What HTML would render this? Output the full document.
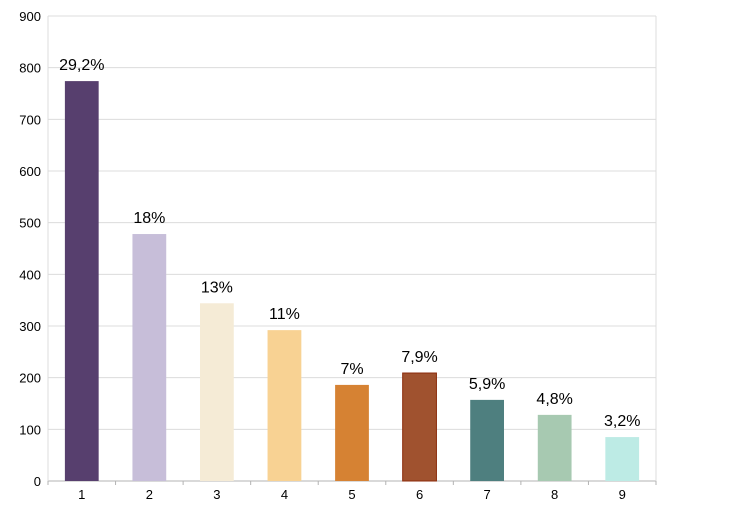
<!DOCTYPE html>
<html><head><meta charset="utf-8"><style>
body{margin:0;background:#fff;}
svg{display:block;font-family:"Liberation Sans",sans-serif;}
</style></head><body>
<svg id="c" width="754" height="524"></svg>
<script>
const categories=["1","2","3","4","5","6","7","8","9"];
const values=[774,478,344,292,186,209,157,128,85];
const labels=["29,2%","18%","13%","11%","7%","7,9%","5,9%","4,8%","3,2%"];
const colors=["#573f6e","#c7bed9","#f5ebd6","#f8d293","#d68233","#a0522f","#4e7f7f","#a7c9b1","#bdebe5"];
const yTicks=[0,100,200,300,400,500,600,700,800,900];
const NS="http://www.w3.org/2000/svg";
const svg=document.getElementById('c');
const L=48,R=656,T=16,B=481,yMax=900;
const y=v=>B-(v/yMax)*(B-T);
const band=(R-L)/categories.length;
const x=i=>L+band*i;
function mk(t,a,txt){const e=document.createElementNS(NS,t);for(const k in a)e.setAttribute(k,a[k]);if(txt!==undefined)e.textContent=txt;svg.appendChild(e);return e;}
yTicks.forEach(v=>{
const g=mk('line',{x1:L,x2:R,y1:y(v),y2:y(v),stroke:v===0?'#b3b3b3':'#dcdcdc','stroke-width':1});


const t=mk('text',{x:L-7,y:y(v)+5,'text-anchor':'end','font-size':13,fill:'#000'},v);


});
const ax=mk('line',{x1:R,x2:R,y1:T,y2:B,stroke:'#dcdcdc'});


const ax2=mk('line',{x1:L,x2:L,y1:T,y2:B,stroke:'#dcdcdc'});


for(let i=0;i<=categories.length;i++){
const tk=mk('line',{x1:x(i),x2:x(i),y1:B,y2:B+4,stroke:'#b3b3b3'});


}
categories.forEach((c,i)=>{
const bw=band*0.5,bx=x(i)+band/2-bw/2;
const r=mk('rect',{x:bx,y:y(values[i]),width:bw,height:B-y(values[i]),fill:colors[i],stroke:i===5?'#8b2a0a':'none','stroke-width':1});


const lt=mk('text',{x:x(i)+band/2,y:y(values[i])-11,'text-anchor':'middle','font-size':16,fill:'#000'},labels[i]);


const ct=mk('text',{x:x(i)+band/2,y:B+18,'text-anchor':'middle','font-size':13,fill:'#000'},c);


});
</script>
</body></html>
